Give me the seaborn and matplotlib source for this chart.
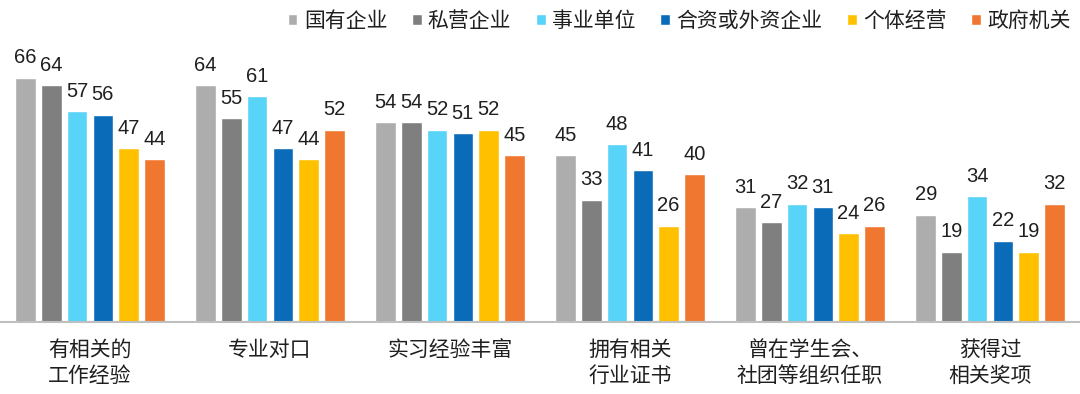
import matplotlib
matplotlib.use("Agg")
import matplotlib.pyplot as plt
import seaborn as sns
import pandas as pd

categories = ["有相关的\n工作经验", "专业对口", "实习经验丰富", "拥有相关\n行业证书",
              "曾在学生会、\n社团等组织任职", "获得过\n相关奖项"]
series = ["国有企业", "私营企业", "事业单位", "合资或外资企业", "个体经营", "政府机关"]
guoyou = [66, 64, 54, 45, 31, 29]
siying = [64, 55, 54, 33, 27, 19]
shiye = [57, 61, 52, 48, 32, 34]
hezi = [56, 47, 51, 41, 31, 22]
geti = [47, 44, 52, 26, 24, 19]
zhengfu = [44, 52, 45, 40, 26, 32]
colors = ["#ADADAD", "#7F7F7F", "#58D4F8", "#0A6CB8", "#FFC000", "#F07730"]

values = [guoyou, siying, shiye, hezi, geti, zhengfu]
rows = []
for s, vals in zip(series, values):
    for c, v in zip(categories, vals):
        rows.append({"category": c, "series": s, "value": v})
df = pd.DataFrame(rows)

sns.set_theme(style="white")
plt.rcParams["font.family"] = ["Noto Sans CJK SC", "DejaVu Sans"]

fig = plt.figure(figsize=(10.8, 3.94), dpi=100)
ax = fig.add_axes([0.0, 72 / 394, 1.0, (322 - 40) / 394])

sns.barplot(data=df, x="category", y="value", hue="series", order=categories,
            hue_order=series, palette=colors, width=0.857, gap=0.195,
            saturation=1, ax=ax, errorbar=None)

for cont in ax.containers:
    ax.bar_label(cont, fmt="%d", padding=7.5, fontsize=14.5, color="#1F1F1F",
                 family=["Liberation Sans", "DejaVu Sans"])

ax.set_ylim(0, (322 - 40) / 3.70)
ax.set_xlim(-0.5, 5.5)
ax.set_xlabel("")
ax.set_ylabel("")
ax.set_yticks([])
ax.tick_params(axis="x", length=0, pad=12, labelsize=15, labelcolor="#1F1F1F")
for lab in ax.get_xticklabels():
    lab.set_linespacing(1.25)
for side in ["left", "right", "top"]:
    ax.spines[side].set_visible(False)
ax.spines["bottom"].set_color("#BFBFBF")
ax.spines["bottom"].set_linewidth(1.5)

handles, labels = ax.get_legend_handles_labels()
if ax.get_legend() is not None:
    ax.get_legend().remove()
fig.legend(handles, labels, loc="upper right", bbox_to_anchor=(1084 / 1080, 1.01),
           ncol=6, frameon=False, fontsize=15, handlelength=0.45, handleheight=0.45,
           handletextpad=0.3, columnspacing=1.2, borderpad=0.15, labelcolor="#1F1F1F")

fig.savefig("out.png", dpi=100)
